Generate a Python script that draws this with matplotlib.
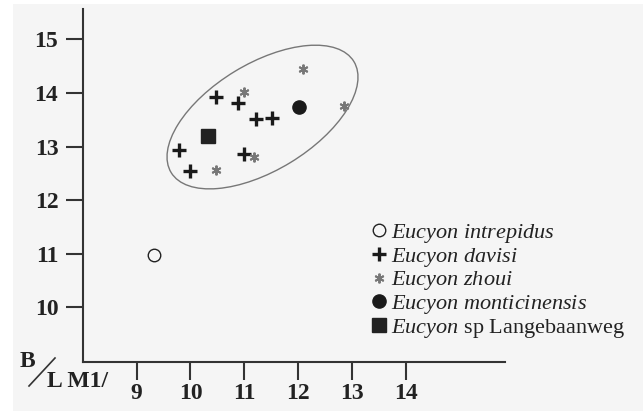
import matplotlib
matplotlib.use("Agg")
import matplotlib.pyplot as plt
from matplotlib.patches import Ellipse, Rectangle
from matplotlib.lines import Line2D

plt.rcParams['font.family'] = ['Liberation Serif', 'DejaVu Serif']
plt.rcParams['mathtext.fontset'] = 'custom'
plt.rcParams['mathtext.rm'] = 'Liberation Serif'
plt.rcParams['mathtext.it'] = 'Liberation Serif:italic'

# L M1 (x) and B (y)
intrepidus_x = [9.32]
intrepidus_y = [10.97]

davisi_x = [9.79, 9.99, 10.47, 10.89, 11.22, 11.51, 11.00]
davisi_y = [12.93, 12.54, 13.92, 13.82, 13.51, 13.54, 12.86]

zhoui_x = [10.99, 10.47, 11.19, 12.10, 12.86]
zhoui_y = [14.02, 12.56, 12.81, 14.44, 13.76]

monticinensis_x = [12.02]
monticinensis_y = [13.73]

langebaanweg_x = [10.33]
langebaanweg_y = [13.20]

x_ticks = [9, 10, 11, 12, 13, 14]
y_ticks = [10, 11, 12, 13, 14, 15]

labels = [r'$\mathit{Eucyon\ intrepidus}$',
          r'$\mathit{Eucyon\ davisi}$',
          r'$\mathit{Eucyon\ zhoui}$',
          r'$\mathit{Eucyon\ monticinensis}$',
          r'$\mathit{Eucyon}$ sp Langebaanweg']

fig = plt.figure(figsize=(6.43, 4.11), dpi=100, facecolor='white')
# light grey paper background of the scan
fig.patches.append(Rectangle((13 / 643, 0), 1, 1 - 4 / 411, transform=fig.transFigure,
                             facecolor='#f5f5f5', edgecolor='none', zorder=-10))

ax = fig.add_axes([83.3 / 643, 49 / 411, (505 - 83.3) / 643, (362 - 9.3) / 411])
ax.set_facecolor('none')
ax.set_xlim(8.007, 15.85)
ax.set_ylim(8.98, 15.56)

axis_col = '#333333'
for s in ['top', 'right']:
    ax.spines[s].set_visible(False)
for s in ['left', 'bottom']:
    ax.spines[s].set_linewidth(1.5)
    ax.spines[s].set_color(axis_col)

ax.set_xticks(x_ticks)
ax.set_yticks(y_ticks)
ax.tick_params(axis='x', direction='out', length=13, width=1.5, color=axis_col, pad=2)
ax.tick_params(axis='y', direction='out', length=12, width=1.5, color=axis_col, pad=6)
for lab in ax.get_xticklabels() + ax.get_yticklabels():
    lab.set_fontsize(17)
    lab.set_fontweight('bold')
    lab.set_color('#222222')

ell = Ellipse((11.34, 13.55), 3.98, 1.99, angle=31.4, fill=False,
              edgecolor='#777777', linewidth=1.0)
ax.add_patch(ell)

h1, = ax.plot(intrepidus_x, intrepidus_y, 'o', ms=9, mfc='none', mec='#222222', mew=1.0)
h2, = ax.plot(davisi_x, davisi_y, '+', ms=10, mec='#1a1a1a', mew=2.4)
h3, = ax.plot(zhoui_x, zhoui_y, ls='none', marker=(6, 2, 0), ms=7, mec='#777777', mew=1.4)
h4, = ax.plot(monticinensis_x, monticinensis_y, 'o', ms=9.5, mfc='#1a1a1a', mec='#1a1a1a')
h5, = ax.plot(langebaanweg_x, langebaanweg_y, 's', ms=10.5, mfc='#222222', mec='#222222')

leg = fig.legend([h1, h2, h3, h4, h5], labels, loc='upper left',
                 bbox_to_anchor=(373 / 643, 1 - 222 / 411), frameon=False,
                 fontsize=16, handlelength=0.5, handletextpad=0.3,
                 labelspacing=0.03, borderpad=0, borderaxespad=0)
for t in leg.get_texts():
    t.set_color('#222222')

# axis captions in the lower-left corner
fig.text(27 / 643, 1 - 361 / 411, 'B', fontsize=17, fontweight='bold',
         ha='center', va='center', color='#222222')
fig.text(47 / 643, 1 - 381 / 411, 'L M1/', fontsize=17, fontweight='bold',
         ha='left', va='center', color='#222222')
fig.add_artist(Line2D([29 / 643, 55 / 643], [1 - 386 / 411, 1 - 358 / 411],
                      transform=fig.transFigure, color='#333333', lw=1.2))

fig.savefig('out.png', dpi=100, facecolor=fig.get_facecolor())
